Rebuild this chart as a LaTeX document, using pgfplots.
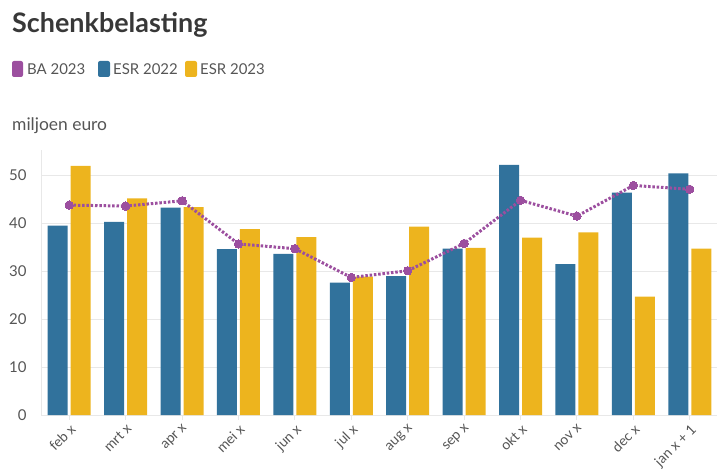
\documentclass[border=0pt]{standalone}
\usepackage{fontspec}
\setmainfont{Lato}
\usepackage{pgfplots}
\pgfplotsset{compat=1.18}
\definecolor{cblue}{HTML}{31729C}
\definecolor{cyellow}{HTML}{EDB41E}
\definecolor{cpurple}{HTML}{9C4F9F}
\definecolor{ctitle}{HTML}{383838}
\definecolor{ctext}{HTML}{555555}
\definecolor{cgrid}{HTML}{E8E8E8}
\begin{document}
\begin{tikzpicture}
\useasboundingbox (0,0) rectangle (717bp,472bp);
\node[anchor=base west, inner sep=0, font=\fontsize{27}{31}\selectfont\bfseries, text=ctitle] at (12bp,439bp) {Schenkbelasting};
\fill[cpurple, rounded corners=2bp] (12bp,395bp) rectangle (23bp,411bp);
\node[anchor=base west, inner sep=0, font=\fontsize{15}{18}\selectfont, text=ctext] at (27bp,397bp) {BA 2023};
\fill[cblue, rounded corners=2bp] (98bp,395bp) rectangle (110bp,411bp);
\node[anchor=base west, inner sep=0, font=\fontsize{15}{18}\selectfont, text=ctext] at (113bp,397bp) {ESR 2022};
\fill[cyellow, rounded corners=2bp] (185bp,395bp) rectangle (197bp,411bp);
\node[anchor=base west, inner sep=0, font=\fontsize{15}{18}\selectfont, text=ctext] at (200bp,397bp) {ESR 2023};
\node[anchor=base west, inner sep=0, font=\fontsize{17.5}{20}\selectfont, text=ctext] at (12bp,341bp) {miljoen euro};
\begin{axis}[
  at={(41bp,57bp)}, anchor=south west,
  scale only axis, width=677bp, height=265bp,
  xmin=-0.5, xmax=11.5, ymin=0, ymax=55.3,
  axis x line*=bottom, axis y line*=left,
  axis line style={draw=cgrid, line width=1bp},
  ymajorgrids, grid style={draw=cgrid, line width=1bp},
  ytick={0,10,20,30,40,50},
  xtick={0,...,11},
  xticklabels={feb x, mrt x, apr x, mei x, jun x, jul x, aug x, sep x, okt x, nov x, dec x, jan x + 1},
  x tick label style={rotate=45, anchor=north east, font=\fontsize{14}{16}\selectfont, text=ctext, inner sep=2bp},
  y tick label style={font=\fontsize{15}{17}\selectfont, text=ctext, xshift=-6bp},
  /pgf/number format/assume math mode=true,
  tick align=outside, major tick length=5bp,
  xtick style={draw=cgrid, line width=1bp},
  ytick style={draw=none},
  clip=false,
]
\addplot[ybar, bar width=20bp, bar shift=-11.5bp, fill=cblue, draw=none] coordinates {
(0,39.5) (1,40.3) (2,43.3) (3,34.6) (4,33.6) (5,27.6) (6,29.0) (7,34.7) (8,52.2) (9,31.5) (10,46.4) (11,50.4)};
\addplot[ybar, bar width=20bp, bar shift=11.5bp, fill=cyellow, draw=none] coordinates {
(0,52.0) (1,45.2) (2,43.4) (3,38.8) (4,37.1) (5,28.9) (6,39.3) (7,34.9) (8,37.0) (9,38.1) (10,24.7) (11,34.7)};
\addplot[sharp plot, cpurple, line width=3bp, dash pattern=on 2.5bp off 1.8bp, mark=*, mark size=4.2bp, mark options={solid, fill=cpurple, draw=cpurple, line width=0bp}] coordinates {
(0,43.8) (1,43.6) (2,44.7) (3,35.7) (4,34.7) (5,28.7) (6,30.1) (7,35.8) (8,44.8) (9,41.5) (10,47.9) (11,47.1)};
\end{axis}
\end{tikzpicture}
\end{document}
